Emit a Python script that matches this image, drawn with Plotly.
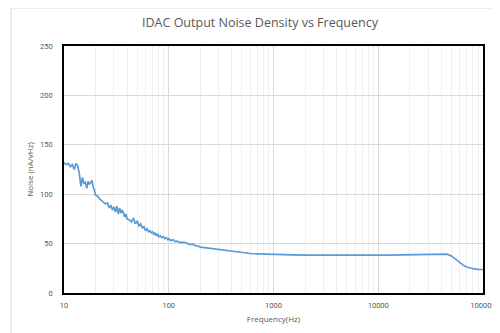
import plotly.graph_objects as go

freq = [10, 10.5, 11, 11.5, 12, 12.5, 13, 13.5, 14, 14.5, 15, 15.5, 16, 16.5, 17, 17.5,
        18, 18.5, 19, 19.5, 20, 21, 22, 23, 24, 25, 26, 27, 28, 29, 30, 31, 32, 33, 34,
        35, 36, 37, 38, 39, 40, 42, 44, 46, 48, 50, 52, 54, 56, 58, 60, 62, 64, 66, 68,
        70, 72, 74, 76, 78, 80, 83, 86, 89, 92, 95, 98, 100, 105, 110, 115, 120, 130,
        140, 150, 160, 170, 180, 190, 200, 220, 240, 260, 280, 300, 330, 360, 400, 450,
        500, 550, 600, 700, 800, 900, 1000, 1200, 1500, 2000, 2500, 3000, 4000, 5000,
        6000, 7000, 8000, 10000, 12000, 15000, 20000, 25000, 30000, 35000, 40000, 45000,
        50000, 55000, 60000, 65000, 70000, 75000, 80000, 90000, 100000]

noise = [132, 130, 131, 128, 130, 125, 131, 129, 121, 108, 117, 111, 112, 106, 113, 110,
         112, 114, 107, 104, 99, 98, 95, 93, 92, 90, 91, 86, 89, 84, 87, 82, 88, 80, 86,
         81, 84, 79, 77, 80, 75, 74, 72, 76, 70, 73, 68, 70, 66, 67, 63, 65, 62, 63, 61,
         62, 59, 61, 58, 60, 57, 58, 56, 57, 55, 56, 54, 55, 53, 54, 52, 52.5, 51,
         51.5, 50, 49, 49.5, 48, 47.5, 46.5, 46, 45.5, 44.5, 44.5, 43.5, 43, 42.5, 41.8, 41.2,
         40.8, 40.5, 40, 39.7, 39.4, 39.2, 39, 38.7, 38.5, 38.3, 38.2, 38.1, 38, 38,
         38.1, 38.1, 38.2, 38.3, 38.4, 38.6, 38.8, 39, 39.2, 39.4, 39.6, 39.3,
         37.5, 34, 30.5, 28, 26.3, 25.3, 24.6, 24, 23.8]

x_major = [10, 100, 1000, 10000, 100000]
x_labels = ["10", "100", "1000", "10000", "100000"]
x_minor = [m * d for d in [10, 100, 1000, 10000] for m in range(2, 10)]

fig = go.Figure()
fig.add_trace(go.Scatter(x=freq, y=noise, mode="lines",
                         line=dict(color="#5b9bd5", width=1.7), showlegend=False))

font_main = "'Open Sans', Lato, sans-serif"
tick_font = "Roboto, 'Open Sans', sans-serif"
fig.update_layout(
    width=492, height=325,
    margin=dict(l=56, r=17, t=38, b=40, autoexpand=False),
    paper_bgcolor="white", plot_bgcolor="white",
    font=dict(family=font_main, color="#595959", size=8),
    title=dict(text="IDAC Output Noise Density vs Frequency", x=252 / 492, xanchor="center",
               xref="container",
               y=1 - 15 / 325, yanchor="middle",
               font=dict(size=12.5, color="#595959", family=font_main)),
    xaxis=dict(type="log", range=[1, 5], tickmode="array", tickvals=x_major,
               ticktext=x_labels, showgrid=True, gridcolor="#d9d9d9", gridwidth=1,
               minor=dict(tickmode="array", tickvals=x_minor, showgrid=True,
                          gridcolor="#efefef", gridwidth=1, ticks=""),
               showline=True, linecolor="black", linewidth=1.5, mirror=True,
               ticks="", zeroline=False, automargin=False, ticklabelstandoff=4,
               title=dict(text="Frequency(Hz)", font=dict(size=8, color="#595959"), standoff=8),
               tickfont=dict(size=7.5, color="#595959", family=tick_font)),
    yaxis=dict(range=[0, 250], tickmode="array", tickvals=[0, 50, 100, 150, 200, 250],
               showgrid=True, gridcolor="#d9d9d9", gridwidth=1,
               showline=True, linecolor="black", linewidth=1.5, mirror=True,
               ticks="", zeroline=False, ticklabelstandoff=8, automargin=False,
               title=dict(text="Noise (nA/vHz)", font=dict(size=8, color="#595959"), standoff=5),
               tickfont=dict(size=7.5, color="#595959", family=tick_font)),
    shapes=[dict(type="rect", xref="paper", yref="paper",
                 x0=(11 - 64) / 419, x1=1.2, y0=-0.3, y1=(293 - 8) / 247,
                 line=dict(color="#d9d9d9", width=1), layer="below")],
)

fig.write_html("out.html")
